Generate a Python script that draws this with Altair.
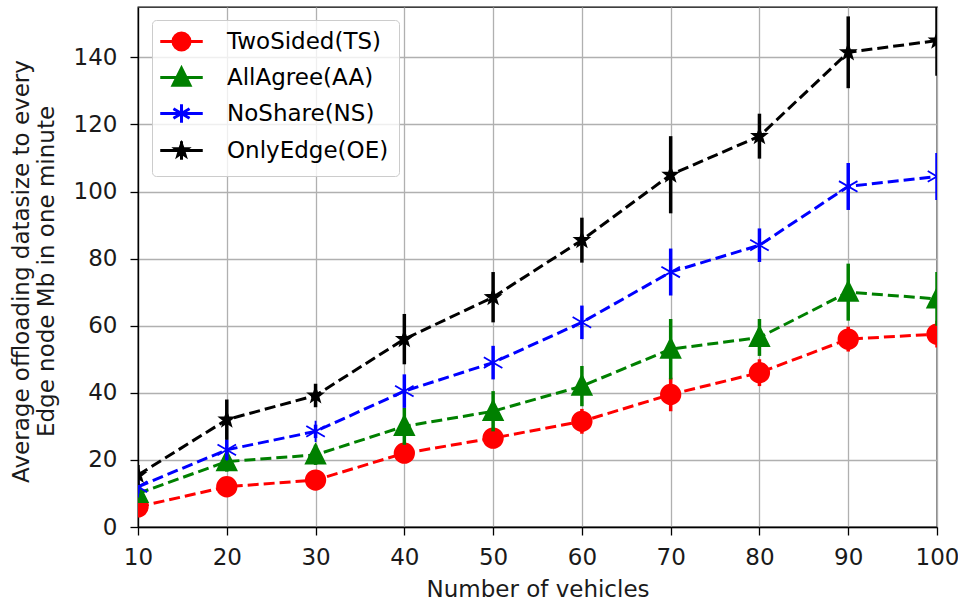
import altair as alt
import pandas as pd

# ---- data ----
vehicles = [10, 20, 30, 40, 50, 60, 70, 80, 90, 100]
series_names = ["TwoSided(TS)", "AllAgree(AA)", "NoShare(NS)", "OnlyEdge(OE)"]
series_colors = ["#ff0000", "#008000", "#0000ff", "#000000"]

ts_mean = [6, 12, 14, 22, 26.5, 31.5, 39.5, 46, 56, 57.5]
ts_err = [1.5, 1.5, 1.5, 2, 3, 3.7, 5, 4, 3.7, 4]
aa_mean = [10, 19.5, 21.5, 30, 34.5, 42, 53, 56.5, 70, 68]
aa_err = [2, 3, 3, 5.5, 6, 6, 9, 5.5, 8.5, 8]
ns_mean = [12, 23, 28.5, 40.5, 49, 61, 76, 84, 101.5, 104.5]
ns_err = [2, 3, 2, 5, 5, 5, 7, 5, 7, 7]
oe_mean = [15.5, 32, 39.2, 56, 68.5, 85.5, 105, 116.5, 141.5, 145]
oe_err = [3, 6, 3.5, 7.5, 7.5, 6.7, 11.5, 6.7, 10.7, 10.5]

y_ticks = [0, 20, 40, 60, 80, 100, 120, 140]

means = [ts_mean, aa_mean, ns_mean, oe_mean]
errs = [ts_err, aa_err, ns_err, oe_err]

rows = []
for name, m, e in zip(series_names, means, errs):
    for xv, mv, ev in zip(vehicles, m, e):
        rows.append({"series": name, "x": xv, "value": mv, "err": ev})
df = pd.DataFrame(rows)

# ---- marker shapes (unit paths) ----
circle_p = "M1,0A1,1 0 1,1 -1,0A1,1 0 1,1 1,0Z"
tri_p = "M0,-1.1L1,0.9L-1,0.9Z"
ast_p = "M0,-1.1V1.1M-0.95,-0.55L0.95,0.55M-0.95,0.55L0.95,-0.55"
star_p = ("M0,-0.75L0.18,-0.25L0.71,-0.23L0.29,0.1L0.44,0.61L0,0.31"
          "L-0.44,0.61L-0.29,0.1L-0.71,-0.23L-0.18,-0.25Z")
cross_p = "M0,-1.1V1.1"
marker_paths = [circle_p, tri_p, ast_p, star_p]
line_seg = "M-2.5,0H2.5"
legend_paths = [line_seg + circle_p, line_seg + tri_p, line_seg + ast_p,
                line_seg + cross_p + star_p]

FONT = "DejaVu Sans"

color_scale = alt.Scale(domain=series_names, range=series_colors)
shape_scale = alt.Scale(domain=series_names, range=legend_paths)
legend = alt.Legend(
    title=None, orient="none", legendX=14, legendY=13,
    padding=10, symbolOffset=8, labelOffset=34, rowPadding=6,
    labelFontSize=23, labelFont=FONT, labelColor="black", labelLimit=400,
    fillColor="rgba(255,255,255,0.8)", strokeColor="#cccccc", cornerRadius=4,
    symbolSize=289, symbolStrokeWidth=3, labelBaseline="middle",
    symbolOpacity=1,
)

x_scale = alt.Scale(domain=[10, 100], nice=False, zero=False)
y_scale = alt.Scale(domain=[0, 155], nice=False, zero=False)
x_axis = alt.Axis(values=vehicles, title="Number of vehicles", format="d",
                  labelPadding=11, titleX=399.5, titleY=69,
                  titleBaseline="alphabetic", titleAlign="center")
y_axis = alt.Axis(values=y_ticks, title=["Average offloading datasize to every",
                                         "Edge node Mb in one minute"],
                  format="d", labelPadding=13, titleAngle=-90,
                  titleX=-128, titleY=264, titleBaseline="top",
                  titleAlign="center", titleLineHeight=25)

X = alt.X("x:Q", scale=x_scale, axis=x_axis)
Y = alt.Y("value:Q", scale=y_scale, axis=y_axis)

layers = []
for name, col, mpath in zip(series_names, series_colors, marker_paths):
    sub = alt.Chart(df).transform_filter(alt.datum.series == name)
    line = sub.mark_line(color=col, strokeDash=[11, 5], strokeWidth=3,
                         clip=True).encode(x=X, y=Y)
    err = sub.transform_calculate(
        lo="datum.value - datum.err", hi="datum.value + datum.err"
    ).mark_rule(color=col, strokeWidth=3.5, clip=True).encode(
        x=X, y=alt.Y("lo:Q", scale=y_scale, axis=y_axis), y2="hi:Q")
    pts = sub.mark_point(shape=mpath, filled=True, size=380, fill=col,
                         stroke=col, strokeWidth=1.8, opacity=1,
                         clip=True).encode(x=X, y=Y)
    layers += [line, err, pts]

# legend-only layer (no rows drawn; scales have explicit domains)
legend_layer = alt.Chart(df).transform_filter(alt.datum.x < 0).mark_point(
    filled=True, size=289, strokeWidth=3, opacity=1
).encode(
    x=X, y=Y,
    color=alt.Color("series:N", scale=color_scale, legend=legend),
    stroke=alt.Stroke("series:N", scale=color_scale, legend=legend),
    shape=alt.Shape("series:N", scale=shape_scale, legend=legend),
)
layers.append(legend_layer)

chart = alt.layer(*layers).properties(
    width=799, height=520,
    autosize=alt.AutoSizeParams(type="none"),
    padding={"left": 138, "top": 7, "right": 21, "bottom": 79},
).configure(font=FONT, background="white").configure_view(
    stroke="black", strokeWidth=1.3
).configure_axis(
    labelFontSize=23, titleFontSize=23, labelFont=FONT, titleFont=FONT,
    labelColor="#1a1a1a", titleColor="#1a1a1a", titleFontWeight="normal",
    gridColor="#b0b0b0", gridWidth=1.3, domainColor="black", domainWidth=1.3,
    tickColor="black", tickSize=8, tickWidth=1.3, labelFlush=False,
    labelOverlap=False,
)

chart.save("out.html", embed_options={"renderer": "svg", "actions": False})
